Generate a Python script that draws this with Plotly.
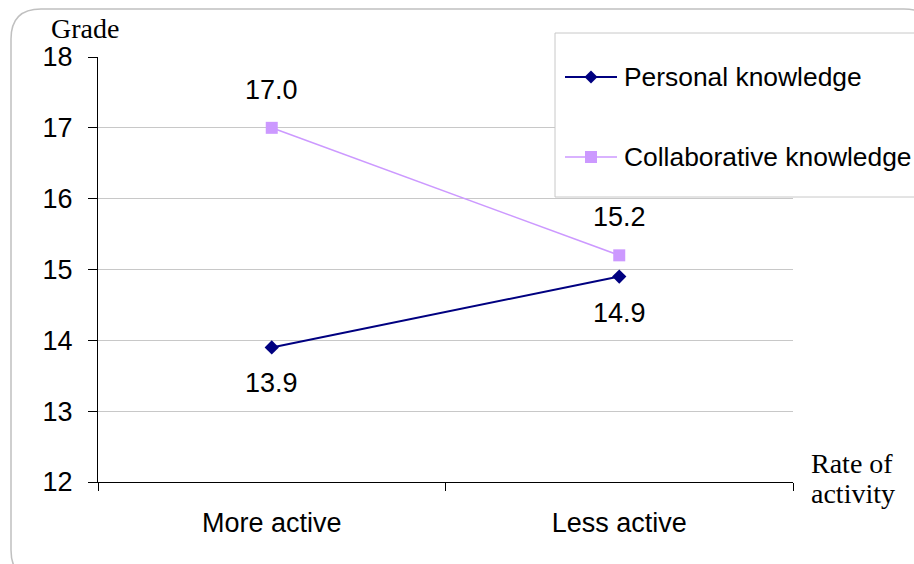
import plotly.graph_objects as go

# Data
categories = ["More active", "Less active"]
personal = [13.9, 14.9]
collaborative = [17.0, 15.2]
series_names = ["Personal knowledge", "Collaborative knowledge"]
y_ticks = [12, 13, 14, 15, 16, 17, 18]

W, H = 914, 564
L, R, T, B = 98, 121, 57, 82
PW, PH = W - L - R, H - T - B

NAVY = "#000080"
LILAC = "#CC99FF"
GRID = "#c8c8c8"
SANS = "Liberation Sans, Arial, sans-serif"
SERIF = "Liberation Serif, Times New Roman, serif"
FS = 27
LEG_FS = 26.4


def px(x):
    return (x - L) / PW


def py(y):
    return (H - B - y) / PH


fig = go.Figure()
fig.add_trace(go.Scatter(
    x=categories, y=personal, mode="lines+markers", name=series_names[0],
    line=dict(color=NAVY, width=2),
    marker=dict(symbol="diamond", size=11, color=NAVY),
))
fig.add_trace(go.Scatter(
    x=categories, y=collaborative, mode="lines+markers", name=series_names[1],
    line=dict(color=LILAC, width=1.6),
    marker=dict(symbol="square", size=12, color=LILAC),
))

annotations = []
# value labels: collaborative above its points, personal below
for cat, v in zip(categories, collaborative):
    annotations.append(dict(x=cat, y=v, xref="x", yref="y", text=f"{v:.1f}",
                            showarrow=False, yshift=38, yanchor="middle",
                            font=dict(family=SANS, size=FS, color="black")))
for cat, v in zip(categories, personal):
    annotations.append(dict(x=cat, y=v, xref="x", yref="y", text=f"{v:.1f}",
                            showarrow=False, yshift=-36, yanchor="middle",
                            font=dict(family=SANS, size=FS, color="black")))

# axis titles
annotations.append(dict(x=px(85), y=py(28), xref="paper", yref="paper", text="Grade",
                        showarrow=False, xanchor="center", yanchor="middle",
                        font=dict(family=SERIF, size=28, color="black")))
for txt, yy in [("Rate of", 463), ("activity", 493)]:
    annotations.append(dict(x=px(809), y=py(yy), xref="paper", yref="paper",
                            text=txt, showarrow=False, xanchor="left", yanchor="middle",
                            font=dict(family=SERIF, size=28, color="black")))

shapes = []
# outer rounded frame
r = 30
x0, y0, x1, y1 = 11, 9, 934, 580
path = (f"M {px(x0 + r)},{py(y0)} L {px(x1 - r)},{py(y0)} "
        f"Q {px(x1)},{py(y0)} {px(x1)},{py(y0 + r)} "
        f"L {px(x1)},{py(y1 - r)} Q {px(x1)},{py(y1)} {px(x1 - r)},{py(y1)} "
        f"L {px(x0 + r)},{py(y1)} Q {px(x0)},{py(y1)} {px(x0)},{py(y1 - r)} "
        f"L {px(x0)},{py(y0 + r)} Q {px(x0)},{py(y0)} {px(x0 + r)},{py(y0)} Z")
shapes.append(dict(type="path", path=path, xref="paper", yref="paper",
                   line=dict(color="#c0c0c0", width=1.5), layer="below"))

# legend box
shapes.append(dict(type="rect", xref="paper", yref="paper",
                   x0=px(555), x1=px(940), y0=py(197), y1=py(33),
                   line=dict(color="#c8c8c8", width=1), fillcolor="white", layer="above"))

legend_rows = [(series_names[0], NAVY, "diamond", 77), (series_names[1], LILAC, "square", 157)]
for name, color, sym, yy in legend_rows:
    shapes.append(dict(type="line", xref="paper", yref="paper",
                       x0=px(565), x1=px(617), y0=py(yy), y1=py(yy),
                       line=dict(color=color, width=2 if sym == "diamond" else 1.6),
                       layer="above"))
    cx = 591
    if sym == "diamond":
        d = 6.5
        p = (f"M {px(cx - d)},{py(yy)} L {px(cx)},{py(yy - d)} "
             f"L {px(cx + d)},{py(yy)} L {px(cx)},{py(yy + d)} Z")
    else:
        d = 6
        p = (f"M {px(cx - d)},{py(yy - d)} L {px(cx + d)},{py(yy - d)} "
             f"L {px(cx + d)},{py(yy + d)} L {px(cx - d)},{py(yy + d)} Z")
    shapes.append(dict(type="path", path=p, xref="paper", yref="paper",
                       fillcolor=color, line=dict(width=0), layer="above"))
    annotations.append(dict(x=px(622), y=py(yy), xref="paper", yref="paper", text=name,
                            showarrow=False, xanchor="left", yanchor="middle",
                            font=dict(family=SANS, size=LEG_FS, color="black")))

fig.update_layout(
    width=W, height=H,
    margin=dict(l=L, r=R, t=T, b=B, pad=0),
    paper_bgcolor="white", plot_bgcolor="white",
    showlegend=False,
    shapes=shapes, annotations=annotations,
    xaxis=dict(
        type="category", range=[-0.5, 1.5], tickson="boundaries",
        showline=True, linecolor="black", linewidth=1,
        ticks="outside", ticklen=8, tickcolor="black", tickwidth=1,
        showgrid=False, ticklabelstandoff=17,
        tickfont=dict(family=SANS, size=FS, color="black"),
    ),
    yaxis=dict(
        range=[12, 18], tickvals=y_ticks, ticktext=[str(v) for v in y_ticks],
        showline=True, linecolor="black", linewidth=1,
        ticks="outside", ticklen=9, tickcolor="black", tickwidth=1,
        showgrid=True, gridcolor=GRID, gridwidth=1, zeroline=False,
        ticklabelstandoff=10,
        tickfont=dict(family=SANS, size=FS, color="black"),
    ),
)

fig.write_html("out.html")
